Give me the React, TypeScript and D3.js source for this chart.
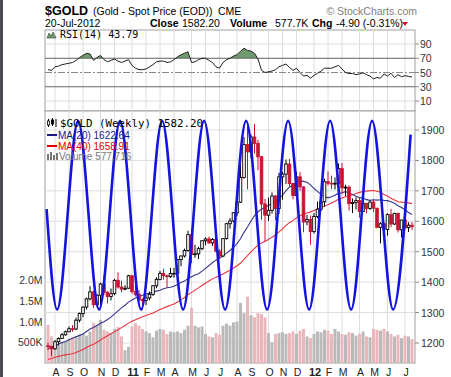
import React from 'react';
import * as d3 from 'd3';

// ---- data ----
const startDate = new Date(2010, 6, 23); // first weekly bar (Fri 23-Jul-2010)

// weekly closes before the chart window (for the moving averages)
const priorCloses = [1056,1045,1096,1118,1147,1176,1168,1118,1110,1104,1097,1138,1131,1089,1083,1064,1092,1120,1117,1133,1102,1104,1106,1126,1161,1136,1142,1179,1209,1228,1176,1212,1219,1227,1256,1256,1208,1210,1191];

const opens = [1191,1189,1181,1204,1215,1227,1237,1247,1246,1275,1297,1318,1345,1368,1326,1357,1394,1367,1353,1362,1406,1384,1377,1380,1421,1369,1360,1342,1340,1348,1360,1388,1409,1429,1421,1418,1428,1429,1474,1486,1504,1556,1491,1493,1510,1536,1542,1529,1540,1502,1486,1543,1592,1601,1628,1663,1744,1852,1828,1877,1856,1812,1657,1620,1636,1683,1642,1746,1755,1788,1724,1685,1746,1713,1598,1606,1566,1616,1640,1664,1730,1725,1724,1725,1773,1710,1712,1658,1662,1668,1632,1659,1642,1663,1643,1580,1592,1573,1622,1591,1626,1572,1604,1579,1587.1];
const highs = [1201,1190,1210,1218,1233,1241,1254,1259,1283,1300,1320,1349,1387,1372,1361,1398,1424,1370,1379,1410,1432,1405,1390,1424,1423,1393,1374,1347,1358,1369,1390,1416,1437,1444,1425,1447,1447,1476,1487,1510,1569,1577,1523,1516,1538,1547,1550,1545,1556,1508,1545,1595,1611,1630,1681,1814,1877,1912,1885,1920,1868,1815,1674,1678,1695,1686,1759,1762,1803,1805,1726,1763,1762,1715,1621,1619,1627,1665,1676,1740,1764,1750,1744,1790,1792,1720,1718,1675,1679,1680,1680,1660,1668,1670,1644,1597,1596,1626,1641,1628,1628,1605,1624,1597,1598];
const lows = [1176,1157,1178,1192,1213,1224,1236,1237,1242,1268,1285,1310,1340,1315,1318,1325,1358,1330,1340,1357,1379,1367,1373,1378,1362,1353,1336,1309,1325,1340,1355,1380,1406,1408,1382,1414,1415,1425,1452,1481,1500,1462,1480,1476,1505,1521,1526,1519,1497,1478,1482,1540,1576,1596,1617,1660,1740,1705,1808,1823,1768,1605,1534,1601,1625,1603,1624,1671,1723,1711,1672,1680,1700,1564,1587,1523,1560,1610,1634,1648,1718,1706,1705,1722,1688,1683,1635,1627,1639,1612,1630,1626,1637,1631,1577,1527,1548,1553,1580,1588,1563,1547,1573,1565,1571];
const closes = [1189,1181,1204,1215,1227,1237,1247,1246,1275,1297,1318,1345,1368,1326,1357,1394,1367,1353,1362,1406,1384,1377,1380,1421,1369,1360,1342,1340,1348,1360,1388,1409,1429,1421,1418,1428,1429,1474,1486,1504,1556,1491,1493,1510,1536,1542,1529,1540,1502,1486,1543,1592,1601,1628,1663,1744,1852,1828,1877,1856,1812,1657,1620,1636,1683,1642,1746,1755,1788,1724,1685,1746,1713,1598,1606,1566,1616,1640,1664,1730,1725,1724,1725,1773,1710,1712,1658,1662,1668,1632,1659,1642,1663,1643,1580,1592,1573,1622,1591,1626,1572,1604,1579,1587.1,1582.2];
const volumes = [920000,640000,450000,430000,480000,520000,580000,620000,650000,680000,700000,660000,760000,960000,920000,1040000,800000,760000,720000,820000,870000,640000,310000,390000,880000,960000,900000,820000,760000,720000,620000,780000,820000,800000,700000,760000,740000,760000,720000,800000,900000,1330000,900000,860000,880000,700000,640000,620000,720000,680000,900000,950000,900000,980000,1000000,1450000,1200000,1600000,1150000,1100000,1200000,1180000,1100000,720000,500000,700000,720000,740000,700000,720000,760000,700000,780000,820000,640000,600000,700000,760000,740000,800000,780000,700000,820000,760000,700000,680000,740000,720000,660000,700000,760000,640000,620000,820000,800000,780000,820000,760000,700000,640000,680000,600000,660000,640000,577716];
const rsiValues = [54,53,58,59,61,62,63,64,67,71,74,77,76,67,71,74,68,65,67,69,66,64,66,68,60,56,54,54,55,58,61,65,66,66,64,65,68,72,75,77,79,64,65,68,70,70,67,64,58,56,64,68,70,73,75,80,84,81,80,77,69,53,50,51,52,54,58,60,62,57,53,56,50,45,46,42,46,49,52,56,56,56,58,60,55,50,48.6,48.6,47,48,49.5,47,45,41,43,42,48,45,49,43,47,44,45.5,44.5,43.79];

// hand-drawn blue cycle line: turning points (week position, price)
const cycleWeeks = [-0.4,2.6,8.6,14.6,20.6,26.6,32.6,38.6,44.6,50.6,56.6,62.6,68.6,74.6,80.6,86.6,92.6,98.6,103.6];
const cycleValues = [1640,1310,1930,1310,1930,1310,1930,1310,1930,1310,1930,1310,1930,1310,1930,1310,1930,1310,1885];

const priceTicks = [1200,1300,1400,1500,1600,1700,1800,1900];
const volumeTicks = [500000,1000000,1500000,2000000];
const volumeTickLabels = ['500K','1.0M','1.5M','2.0M'];
const rsiTicks = [10,30,50,70,90];

// ---- layout ----
const L = 45, R = 415;
const rsiTop = 30, rsiBot = 111;
const mainTop = 111, mainBot = 363;
const AX = 'Liberation Sans, Arial, sans-serif';
const MONO = 'DejaVu Sans Mono, monospace';
const RED = '#cc1133';

export default function App() {
  const x = d3.scaleLinear().domain([0, 104]).range([48, 412]);
  const yP = d3.scaleLinear().domain([1200, 1900]).range([343, 130]);
  const yV = d3.scaleLinear().domain([0, 2000000]).range([363, 280]);
  const yR = d3.scaleLinear().domain([10, 90]).range([101, 44]);

  const dates = closes.map((_, i) => d3.timeDay.offset(startDate, 7 * i));
  const monthIdx = dates.map((d, i) => i).filter(i => i > 0 && dates[i].getMonth() !== dates[i - 1].getMonth());

  const all = [...priorCloses, ...closes];
  const off = priorCloses.length;
  const ma = (p: number) => closes.map((_, i) => d3.mean(all.slice(i + off - p + 1, i + off + 1)) as number);
  const ma20 = ma(20), ma40 = ma(40);

  const maLine = d3.line<number>().x((_, i) => x(i)).y(v => yP(v));
  const rsiLine = d3.line<number>().x((_, i) => x(i)).y(v => yR(v));
  const rsiArea = d3.area<number>().x((_, i) => x(i)).y0(yR(70)).y1(v => yR(v));
  const cyc = d3.line<number>().x((_, i) => x(cycleWeeks[i])).y(v => yP(v)).curve(d3.curveMonotoneX);

  return (
    <svg width={451} height={377} style={{ position: 'absolute', left: 0, top: 0, background: '#fff' }}>
      <defs>
        <clipPath id="mainClip"><rect x={L} y={mainTop} width={R - L} height={mainBot - mainTop} /></clipPath>
        <clipPath id="rsiClip"><rect x={L} y={rsiTop} width={R - L} height={rsiBot - rsiTop} /></clipPath>
        <clipPath id="above70"><rect x={L} y={rsiTop} width={R - L} height={yR(70) - rsiTop} /></clipPath>
      </defs>
      <rect x={0} y={0} width={451} height={377} fill="#fff" />
      <rect x={0} y={0} width={3} height={377} fill="#4a4a55" />

      {/* header */}
      <text x={45} y={15} fontFamily={AX} fontSize={12.5} fontWeight="bold" fill="#000">$GOLD</text>
      <text x={93} y={15} fontFamily={AX} fontSize={10.5} fill="#000">(Gold - Spot Price (EOD))</text>
      <text x={218} y={15} fontFamily={AX} fontSize={10.5} fill="#000">CME</text>
      <text x={417} y={15} fontFamily={AX} fontSize={10.5} fill="#808080" textAnchor="end">© StockCharts.com</text>
      <text x={45} y={26.5} fontFamily={AX} fontSize={10.5} fill="#000">20-Jul-2012</text>
      <text x={150} y={26.5} fontFamily={AX} fontSize={10.5} fontWeight="bold" fill="#000">Close</text>
      <text x={182} y={26.5} fontFamily={AX} fontSize={10.5} fill="#000">1582.20</text>
      <text x={230} y={26.5} fontFamily={AX} fontSize={10.5} fontWeight="bold" fill="#000">Volume</text>
      <text x={275} y={26.5} fontFamily={AX} fontSize={10.5} fill="#000">577.7K</text>
      <text x={312} y={26.5} fontFamily={AX} fontSize={10.5} fontWeight="bold" fill="#000">Chg</text>
      <text x={336} y={26.5} fontFamily={AX} fontSize={10.5} fill="#000">-4.90 (-0.31%)</text>
      <path d="M402,22 L408,22 L405,26 Z" fill={RED} />

      {/* RSI panel */}
      <rect x={L} y={rsiTop} width={R - L} height={rsiBot - rsiTop} fill="#fff" stroke="#a0a0a0" />
      {monthIdx.map(i => (
        <line key={'rv' + i} x1={x(i)} x2={x(i)} y1={rsiTop} y2={rsiBot} stroke="#dedede" />
      ))}
      {[10, 90].map(t => (
        <line key={'rg' + t} x1={L} x2={R} y1={yR(t)} y2={yR(t)} stroke="#dedede" />
      ))}
      <g clipPath="url(#rsiClip)">
        <g clipPath="url(#above70)">
          <path d={rsiArea(rsiValues) || ''} fill="#6f9a6f" />
        </g>
        <line x1={L} x2={R} y1={yR(70)} y2={yR(70)} stroke="#666" />
        <line x1={L} x2={R} y1={yR(30)} y2={yR(30)} stroke="#666" />
        <line x1={L} x2={R} y1={yR(50)} y2={yR(50)} stroke="#888" strokeDasharray="7,2,2,2" />
        <path d={rsiLine(rsiValues) || ''} fill="none" stroke="#222" strokeWidth={1} />
      </g>
      {rsiTicks.map(t => (
        <g key={'rt' + t}>
          <line x1={R} x2={R + 4} y1={yR(t)} y2={yR(t)} stroke="#888" />
          <text x={420} y={yR(t) + 4} fontFamily={AX} fontSize={10.5} fill="#333">{t}</text>
        </g>
      ))}
      <path d="M47,38 L49,33 L51,36 L53,32 L56,38 Z" fill="#6f9a6f" stroke="#2a4a2a" strokeWidth={0.6} />
      <text x={60} y={38} fontFamily={MONO} fontSize={10} fill="#000">RSI(14) 43.79</text>

      {/* main panel */}
      <rect x={L} y={mainTop} width={R - L} height={mainBot - mainTop} fill="#fff" stroke="#a0a0a0" />
      {monthIdx.map(i => (
        <line key={'mv' + i} x1={x(i)} x2={x(i)} y1={mainTop} y2={mainBot} stroke="#dedede" />
      ))}
      {priceTicks.map(t => (
        <line key={'mg' + t} x1={L} x2={R} y1={yP(t)} y2={yP(t)} stroke="#dedede" />
      ))}
      <g clipPath="url(#mainClip)">
        {volumes.map((v, i) => {
          const prev = i === 0 ? priorCloses[priorCloses.length - 1] : closes[i - 1];
          const down = closes[i] < prev;
          return (
            <rect key={'v' + i} x={x(i) - 1.5} y={yV(v)} width={3} height={yV(0) - yV(v)}
              fill={down ? '#ebb7bb' : '#bababa'} />
          );
        })}
        <path d={maLine(ma40) || ''} fill="none" stroke="#e8343c" strokeWidth={1.1} />
        <path d={maLine(ma20) || ''} fill="none" stroke="#35358f" strokeWidth={1.1} />
        {closes.map((c, i) => {
          const o = opens[i];
          const prev = i === 0 ? priorCloses[priorCloses.length - 1] : closes[i - 1];
          const col = c < prev ? RED : '#000';
          const filled = c < o;
          const cx = x(i);
          const top = yP(Math.max(o, c));
          const bot = yP(Math.min(o, c));
          return (
            <g key={'c' + i}>
              <line x1={cx} x2={cx} y1={yP(highs[i])} y2={yP(lows[i])} stroke={col} strokeWidth={1} />
              <rect x={cx - 1.3} y={top} width={2.6} height={Math.max(bot - top, 0.8)}
                fill={filled ? col : '#fff'} stroke={col} strokeWidth={0.9} />
            </g>
          );
        })}
        <path d={cyc(cycleValues) || ''} fill="none" stroke="#1414e0" strokeWidth={2.6} />
      </g>
      {priceTicks.map(t => (
        <g key={'pt' + t}>
          <line x1={R} x2={R + 4} y1={yP(t)} y2={yP(t)} stroke="#888" />
          <text x={421} y={yP(t) + 4} fontFamily={AX} fontSize={10.5} fill="#333">{t}</text>
        </g>
      ))}
      {volumeTicks.map((t, k) => (
        <text key={'vt' + t} x={42.5} y={yV(t) + 4} fontFamily={AX} fontSize={10.5} fill="#333" textAnchor="end">{volumeTickLabels[k]}</text>
      ))}
      {monthIdx.map(i => {
        const d = dates[i];
        const isYear = d.getMonth() === 0;
        const label = isYear ? d3.timeFormat('%y')(d) : d3.timeFormat('%b')(d)[0];
        return (
          <text key={'xl' + i} x={x(i) + 1} y={375.5} fontFamily={AX} fontSize={isYear ? 11 : 10.5}
            fontWeight={isYear ? 'bold' : 'normal'} fill="#222" textAnchor="middle">{label}</text>
        );
      })}

      {/* main legend */}
      <g>
        <line x1={48.5} x2={48.5} y1={119} y2={127} stroke="#000" />
        <rect x={47.5} y={121} width={2} height={4} fill="#fff" stroke="#000" strokeWidth={0.8} />
        <line x1={52.5} x2={52.5} y1={118} y2={126} stroke="#000" />
        <rect x={51.5} y={120} width={2} height={4} fill="#000" stroke="#000" strokeWidth={0.8} />
        <line x1={56} x2={56} y1={119} y2={127} stroke="#000" />
        <text x={60} y={127} fontFamily={MONO} fontSize={10.8} fill="#000">$GOLD (Weekly) 1582.20</text>
        <line x1={47} x2={57} y1={135} y2={135} stroke="#1a1a80" strokeWidth={2} />
        <text x={58} y={138.5} fontFamily={AX} fontSize={10} fill="#1a1a80">MA(20) 1622.64</text>
        <line x1={47} x2={57} y1={146} y2={146} stroke="#e00000" strokeWidth={2} />
        <text x={58} y={149.5} fontFamily={AX} fontSize={10} fill="#e00000">MA(40) 1658.91</text>
        <rect x={47} y={154} width={2} height={6} fill="#777" />
        <rect x={50} y={152} width={2} height={8} fill="#777" />
        <rect x={53} y={155} width={2} height={5} fill="#777" />
        <rect x={56} y={153} width={2} height={7} fill="#777" />
        <text x={59} y={160} fontFamily={AX} fontSize={10} fill="#777">Volume 577,716</text>
      </g>
    </svg>
  );
}
